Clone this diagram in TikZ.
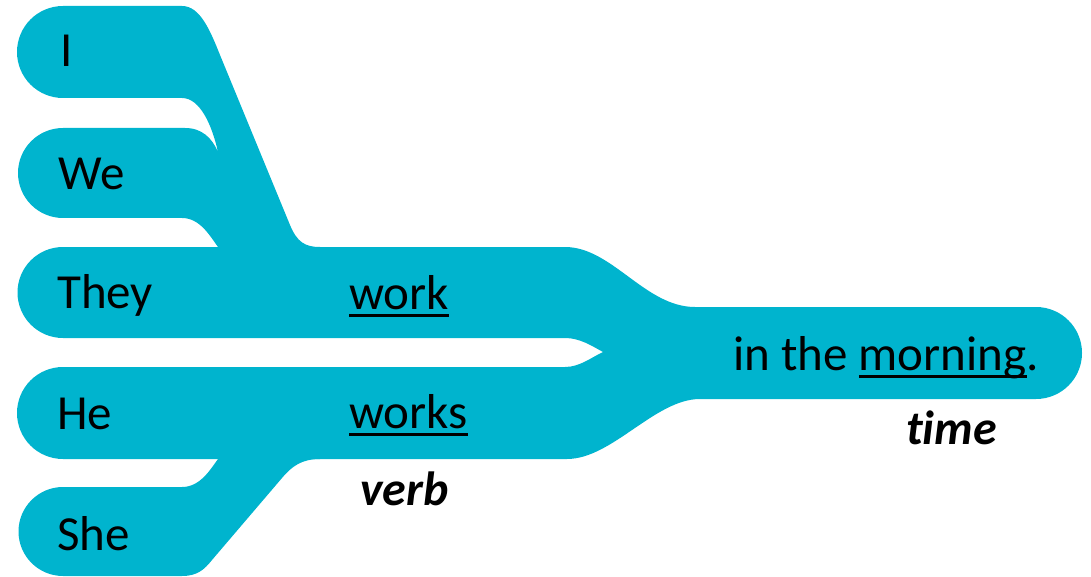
\documentclass[tikz,border=0pt]{standalone}
\usepackage{fontspec}
\setmainfont{Carlito}[Ligatures=NoCommon]
\definecolor{branchcyan}{RGB}{0,180,206}
\newcommand\uword[1]{\setbox0\hbox{#1}\rlap{#1}\rule[-8pt]{\wd0}{2.8pt}}

\begin{document}
\begin{tikzpicture}
		[x=1pt, y=-1pt,
		branch/.style ={fill=branchcyan, draw=none},
		word/.style ={anchor=base west, inner sep=0pt, font=\fontsize{49}{58}\selectfont},
		role/.style ={word, font=\fontsize{48}{56}\selectfont\bfseries\itshape},
		]
		\useasboundingbox (0,0) rectangle (1091,577);

		% I and We run into the upper bar
		\path[branch] (63,6) -- (182,6) .. controls (200,6) and (210,30) .. (220,55)
		-- (290,225) .. controls (297,242) and (305,247) .. (320,247)
		-- (218,247) .. controls (210,236) and (200,218) .. (182,218)
		-- (63,218) arc[start angle=90, end angle=270, radius=45]
		-- (185,128) .. controls (202,128) and (212,138) .. (218,152)
		.. controls (212,125) and (200,98) .. (182,98)
		-- (63,98) arc[start angle=90, end angle=270, radius=46] -- cycle;

		% She runs into the lower bar
		\path[branch] (320,459) -- (218,459) .. controls (210,470) and (200,487) .. (182,487)
		-- (63,487) arc[start angle=270, end angle=90, radius=44.5]
		-- (182,576) .. controls (197,576) and (204,570) .. (212,560)
		-- (282,478) .. controls (292,466) and (302,459) .. (320,459) -- cycle;

		% both bars meet in the right bar
		\path[branch] (565,247) .. controls (612,247) and (645,307) .. (695,307)
		-- (1036,307) arc[start angle=270, end angle=450, radius=46]
		-- (700,399) .. controls (655,399) and (612,459) .. (567,459)
		-- (63,459) arc[start angle=90, end angle=270, radius=46]
		-- (565,367) .. controls (580,367) and (592,357) .. (603,352)
		.. controls (592,346) and (580,338) .. (565,338)
		-- (63,338) arc[start angle=90, end angle=270, radius=45.5] -- cycle;

		\draw (60,67) node[word] (i) {I};
		\draw (58,190) node[word] (we) {We};
		\draw (57,308) node[word] (they) {They};
		\draw (57,429) node[word] (he) {He};
		\draw (57,550) node[word] (she) {She};
		\draw (349,309) node[word] (work) {\uword{work}};
		\draw (349,428) node[word] (works) {\uword{works}};
		\draw (733,370) node[word] (morning) {in the \uword{morning}.};
		\draw (360,505) node[role] (verb) {verb};
		\draw (906,444) node[role] (time) {time};

	\end{tikzpicture}
\end{document}
